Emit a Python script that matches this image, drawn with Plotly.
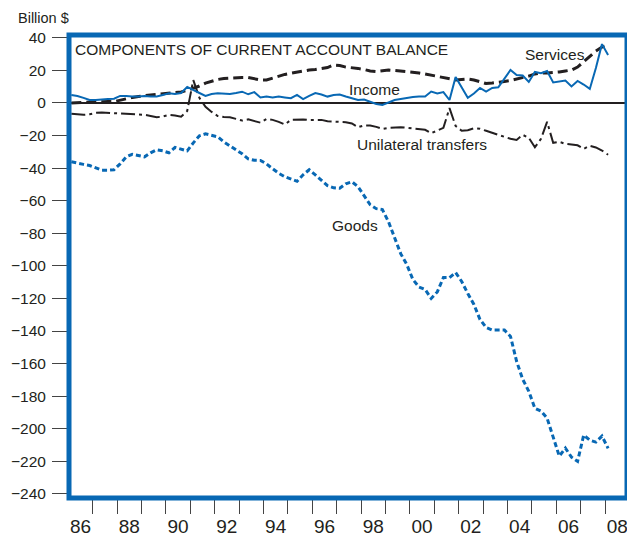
import plotly.graph_objects as go

# Quarterly data, 1986Q1 - 2008Q1 (billion $)
quarters = [1986.125 + q / 4 for q in range(89)]

goods = [-36.1, -36.7, -37.7, -38.4, -39.8, -41.3, -41.3, -41.0, -37.4, -33.1,
         -31.5, -32.5, -33.1, -30.6, -28.8, -29.4, -30.6, -27.3, -28.2, -29.4,
         -24.5, -20.2, -19.0, -19.9, -20.8, -23.9, -26.3, -28.5, -31.2, -34.3,
         -35.2, -35.3, -37.4, -40.4, -43.2, -45.3, -46.8, -48.1, -44.1, -41.0,
         -44.1, -47.2, -50.8, -52.1, -52.4, -49.6, -48.4, -51.4, -57.0, -62.5,
         -64.9, -65.5, -72.9, -82.7, -92.5, -99.2, -108.4, -113.0, -114.5, -120.0,
         -116.0, -107.2, -107.2, -104.1, -109.6, -117.0, -123.7, -132.9, -137.8, -139.4,
         -139.4, -139.4, -143.3, -158.6, -169.6, -177.0, -187.4, -189.2, -193.5, -205.0,
         -216.8, -211.9, -217.4, -220.0, -203.9, -207.0, -208.2, -204.5, -212.0]

services = [0.0, 0.2, 0.3, 0.6, 0.6, 0.9, 0.9, 0.8, 1.8, 2.4,
            3.4, 4.0, 4.6, 4.9, 5.2, 5.5, 6.1, 6.4, 6.7, 7.7,
            8.9, 10.4, 12.2, 13.5, 14.4, 15.0, 15.3, 15.3, 15.6, 15.6,
            14.7, 14.1, 14.1, 15.3, 16.2, 17.5, 18.2, 19.0, 19.6, 20.2,
            20.5, 21.1, 21.7, 23.3, 23.0, 22.0, 21.7, 21.2, 20.5, 19.6,
            19.3, 19.9, 20.2, 19.9, 19.6, 19.3, 19.0, 18.4, 17.8, 17.1,
            16.5, 15.6, 14.7, 14.1, 14.4, 14.7, 14.1, 12.9, 11.9, 12.2,
            12.9, 13.2, 13.8, 14.7, 15.3, 16.5, 17.8, 18.4, 18.4, 18.6,
            19.0, 19.6, 20.2, 22.0, 25.1, 28.8, 31.8, 34.3, 35.5]

income = [4.9, 4.3, 3.1, 1.8, 1.8, 2.3, 2.4, 2.6, 4.3, 4.3,
          3.9, 4.0, 4.3, 4.0, 3.9, 4.9, 5.9, 5.5, 6.1, 9.8,
          7.7, 6.1, 4.3, 5.5, 5.9, 5.9, 5.5, 6.1, 6.9, 5.3,
          6.6, 3.4, 4.0, 3.4, 3.9, 3.4, 2.9, 4.9, 2.4, 4.3,
          6.1, 5.2, 3.9, 4.9, 5.2, 4.0, 2.8, 1.8, 2.1, 0.9,
          -0.6, -1.2, 0.3, 1.8, 2.4, 3.1, 3.7, 3.9, 3.9, 7.0,
          5.8, 6.7, 1.8, 15.9, 9.2, 3.1, 5.8, 9.2, 7.0, 9.2,
          9.6, 14.7, 20.2, 17.1, 16.8, 12.9, 19.0, 18.2, 19.6, 12.6,
          13.2, 13.8, 10.1, 13.5, 11.3, 8.6, 21.4, 36.1, 29.4]

transfers = [-6.7, -7.0, -7.3, -7.0, -6.1, -5.9, -6.1, -6.3, -6.4, -6.7,
             -6.7, -7.0, -7.3, -8.0, -8.8, -8.3, -7.3, -7.7, -8.4, -4.9,
             14.0, 3.1, -2.4, -5.5, -8.0, -8.6, -8.8, -9.8, -10.8, -10.1,
             -11.0, -12.1, -9.8, -10.4, -11.6, -13.2, -10.4, -10.1, -10.1, -10.4,
             -10.4, -10.4, -11.3, -11.5, -11.5, -11.8, -12.6, -14.9, -13.8, -13.8,
             -14.7, -15.9, -15.3, -14.9, -14.9, -15.2, -15.5, -15.9, -16.5, -18.6,
             -17.0, -15.3, -3.2, -14.1, -17.1, -16.8, -15.6, -15.9, -17.1, -18.4,
             -19.6, -20.8, -22.0, -22.7, -19.6, -21.4, -27.2, -22.0, -11.6, -24.5,
             -23.9, -25.1, -25.7, -26.0, -28.2, -26.3, -27.3, -29.2, -31.8]

year_ticks = list(range(1987, 2009))
label_pos = [1986.5 + 2 * i for i in range(12)]
label_text = ["86", "88", "90", "92", "94", "96", "98", "00", "02", "04", "06", "08"]
y_ticks = list(range(-240, 41, 20))

BLUE = "#0868b4"
DARK = "#231f20"
FONT = "Liberation Sans, Arial, sans-serif"

fig = go.Figure()
fig.add_trace(go.Scatter(x=quarters, y=goods, mode="lines",
                         line=dict(color=BLUE, width=3, dash="5px,3px")))
fig.add_trace(go.Scatter(x=quarters, y=services, mode="lines",
                         line=dict(color=DARK, width=3, dash="10px,5px")))
fig.add_trace(go.Scatter(x=quarters, y=transfers, mode="lines",
                         line=dict(color=DARK, width=2, dash="14px,4px,3px,4px")))
fig.add_trace(go.Scatter(x=quarters, y=income, mode="lines",
                         line=dict(color=BLUE, width=2)))
# invisible trace to activate the label axis
fig.add_trace(go.Scatter(x=[label_pos[0]], y=[0], xaxis="x2", mode="lines",
                         line=dict(color="rgba(0,0,0,0)"), hoverinfo="skip"))

xr = [1986.03, 2008.90]
# The page body has an 8px margin, so the figure is sized to fit the window.
fig.update_layout(
    width=627, height=531,
    margin=dict(l=61, r=8, t=27, b=41, autoexpand=False),
    paper_bgcolor="white", plot_bgcolor="white",
    showlegend=False,
    font=dict(family=FONT, color=DARK, size=16),
    xaxis=dict(range=xr, tickmode="array", tickvals=year_ticks, showticklabels=False,
               ticks="outside", ticklen=15, tickwidth=1.2, tickcolor="#444444",
               showgrid=False, zeroline=False, showline=False, automargin=False),
    xaxis2=dict(range=xr, overlaying="x", side="bottom", tickmode="array",
                tickvals=label_pos, ticktext=label_text,
                ticks="outside", ticklen=11, tickcolor="rgba(0,0,0,0)",
                tickfont=dict(size=19, family=FONT, color=DARK),
                showgrid=False, zeroline=False, showline=False, automargin=False),
    yaxis=dict(range=[-242.5, 41.7], tickmode="array", tickvals=y_ticks,
               ticks="outside", ticklen=16, tickwidth=1.2, tickcolor="#444444",
               tickfont=dict(size=15.5, family=FONT, color=DARK),
               ticklabelstandoff=3,
               showgrid=False, zeroline=True, zerolinecolor=DARK, zerolinewidth=1.5,
               showline=False, automargin=False),
)

fig.add_shape(type="rect", xref="paper", yref="paper", x0=0, x1=1, y0=0, y1=1,
              line=dict(color=BLUE, width=5), layer="above")

ann = dict(showarrow=False, font=dict(family=FONT, size=15.5, color=DARK))
fig.add_annotation(text="COMPONENTS OF CURRENT ACCOUNT BALANCE", xref="paper", yref="paper",
                   x=0.008, y=0.968, xanchor="left", yanchor="middle", **ann)
fig.add_annotation(text="Billion $", xref="paper", yref="paper",
                   x=-0.095, y=1.037, xanchor="left", yanchor="middle",
                   showarrow=False, font=dict(family=FONT, size=14.5, color=DARK))
fig.add_annotation(text="Services", x=2005.95, y=29.5, **ann)
fig.add_annotation(text="Income", x=1998.57, y=8, **ann)
fig.add_annotation(text="Unilateral transfers", x=2000.5, y=-25.8, **ann)
fig.add_annotation(text="Goods", x=1997.75, y=-75, **ann)

fig.write_html("out.html")
